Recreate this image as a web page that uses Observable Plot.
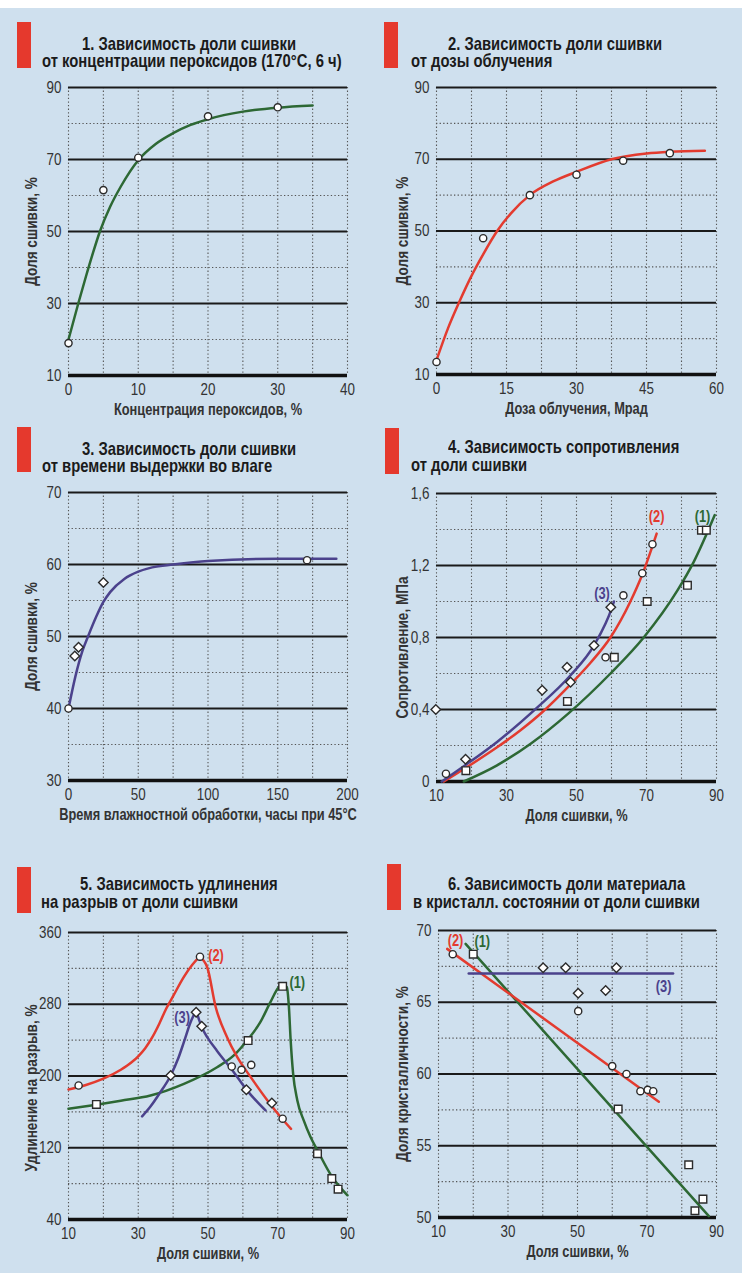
<!DOCTYPE html>
<html>
<head>
<meta charset="utf-8">
<script src="https://cdn.jsdelivr.net/npm/d3@7"></script>
<script src="https://cdn.jsdelivr.net/npm/@observablehq/plot@0.6"></script>
<style>
  html, body { margin: 0; padding: 0; background: #fff; }
  #page { position: relative; width: 742px; height: 1273px; overflow: hidden;
          font-family: "Liberation Sans", Arial, sans-serif; }
  #bg { position: absolute; left: 0; top: 8px; width: 742px; height: 1265px; background: #cfe0ee; }
  .bar { position: absolute; width: 14px; background: #e5392d; }
  .title { position: absolute; font-weight: bold; font-size: 19px; line-height: 15px;
           color: #1b1b1b; white-space: nowrap; transform: scaleX(0.78); transform-origin: 0 0; }
</style>
</head>
<body>
<div id="page"><div id="bg"></div></div>
<script>
// ---- series colours ----
const GREEN = "#2d6834", RED = "#e33b2f", PURPLE = "#4b428c";
const seriesColors = [GREEN, RED, PURPLE];

// ---- 1. crosslink fraction vs peroxide concentration ----
const p1Points = [[0, 19], [5, 61.5], [10, 70.5], [20, 82], [30, 84.5]];
const p1Curve = [[0, 20], [1.4, 30], [2.5, 37.5], [3.5, 44], [4.5, 50], [6, 57], [7.5, 62.5], [10, 69.8],
                 [12.5, 74.3], [15, 77.3], [17.5, 79.6], [20, 81.2], [25, 83.3], [30, 84.4], [35, 85]];
const p1XTicks = [0, 10, 20, 30, 40];
const p1YTicks = [10, 30, 50, 70, 90];

// ---- 2. crosslink fraction vs irradiation dose ----
const p2Points = [[0, 13.5], [10, 48], [20, 60], [30, 65.7], [40, 69.6], [50, 71.7]];
const p2Curve = [[0, 14], [2.5, 23], [4.8, 30], [7.5, 37.5], [10, 43.5], [13, 50], [16, 55], [20, 60],
                 [25, 63.8], [30, 66.5], [37.5, 70], [45, 71.6], [50, 72.1], [57.5, 72.4]];
const p2XTicks = [0, 15, 30, 45, 60];
const p2YTicks = [10, 30, 50, 70, 90];

// ---- 3. crosslink fraction vs moisture exposure time ----
const p3Circles = [[0, 40], [171, 60.6]];
const p3Diamonds = [[4.5, 47.3], [7.2, 48.5], [25, 57.5]];
const p3Curve = [[0, 40], [5, 44.5], [10, 48], [14, 50], [20, 52.8], [25, 54.8], [30, 56.2], [40, 58],
                 [50, 59], [60, 59.6], [75, 60], [100, 60.5], [150, 60.8], [192, 60.8]];
const p3XTicks = [0, 50, 100, 150, 200];
const p3YTicks = [30, 40, 50, 60, 70];

// ---- 4. resistance vs crosslink fraction ----
const p4Squares = [[18.4, 0.06], [47.4, 0.445], [60.8, 0.69], [70.2, 1.0], [81.7, 1.09], [85.7, 1.396], [87.1, 1.396]];
const p4Circles = [[12.7, 0.043], [58.3, 0.69], [63.4, 1.034], [68.8, 1.157], [71.7, 1.318]];
const p4Diamonds = [[9.8, 0.4], [18.3, 0.124], [40.2, 0.507], [47.3, 0.635], [48.3, 0.552], [55, 0.756], [59.8, 0.968]];
const p4Curve1 = [[17.8, 0], [27.3, 0.09], [36.9, 0.21], [47.8, 0.38], [59.7, 0.6], [69.2, 0.8],
                  [78.8, 1.06], [83.5, 1.22], [89.5, 1.48]];
const p4Curve2 = [[12.1, 0], [18.3, 0.075], [27.3, 0.19], [34, 0.285], [40.2, 0.385], [48.3, 0.54],
                  [54, 0.66], [59.7, 0.8], [65.4, 1.0], [68.8, 1.15], [72.9, 1.377]];
const p4Curve3 = [[11.5, 0], [18.3, 0.092], [27.3, 0.22], [37.8, 0.394], [48.3, 0.59], [55, 0.756],
                  [60.2, 0.97], [60.7, 1.0]];
const p4Labels = [["(1)", 86, 1.47], ["(2)", 72.9, 1.47], ["(3)", 57.3, 1.045]];
const p4XTicks = [10, 30, 50, 70, 90];
const p4YTicks = [0, 0.4, 0.8, 1.2, 1.6];

// ---- 5. elongation at break vs crosslink fraction ----
const p5Squares = [[18, 168.3], [71.4, 300], [61.5, 239.5], [81.4, 113.4], [85.5, 85.6], [87.3, 73.8]];
const p5Circles = [[12.9, 189.4], [47.7, 333], [56.8, 210.6], [59.6, 206.9], [62.4, 212.4], [71.4, 152.4]];
const p5Diamonds = [[39.3, 200.6], [46.6, 271], [48.2, 255.4], [61, 184.6], [68.3, 170]];
const p5Curve1Rise = [[10, 163.4], [18, 168], [25, 172.5], [33.5, 178.3], [43.1, 191.3], [52.6, 209.8],
                      [57.4, 222.9], [61.2, 239.6], [65, 260], [67.9, 282.3], [70.3, 299], [71.6, 302]];
const p5Curve1Fall = [[71.6, 302], [72.6, 299], [73.2, 277], [73.7, 240], [74.4, 203], [75.6, 173],
                      [77.5, 150], [79.4, 132], [81.4, 117], [85.5, 88], [90, 67]];
const p5Curve2Rise = [[10, 185], [15, 190], [20, 197], [25, 207], [28, 215], [30, 222], [32, 231],
                      [34, 243], [36, 258], [38, 275], [40, 289], [43, 310], [45.5, 324], [47.6, 333]];
const p5Curve2Fall = [[47.6, 333], [49.8, 321], [52.2, 277], [55.5, 243], [58.4, 221], [62.2, 199],
                      [67, 173], [71.3, 152], [73.8, 141]];
const p5Curve3Rise = [[31.1, 155], [33.5, 166], [36, 180], [39.3, 200.6], [41.5, 220], [43.1, 238],
                      [45, 260], [46.6, 273]];
const p5Curve3Fall = [[46.6, 273], [47.5, 262], [48.5, 252], [50, 242], [52.6, 228], [57.4, 204.3],
                      [61.2, 184], [66.5, 161.6]];
const p5Labels = [["(1)", 75.6, 303.5], ["(2)", 52.3, 334.4], ["(3)", 42.6, 264.9]];
const p5XTicks = [10, 30, 50, 70, 90];
const p5YTicks = [40, 120, 200, 280, 360];

// ---- 6. crystalline fraction vs crosslink fraction ----
const p6Circles = [[14.1, 68.35], [50.2, 64.38], [60, 60.55], [64.1, 60], [68.1, 58.8], [70.2, 58.9], [71.8, 58.8]];
const p6Squares = [[20, 68.35], [61.7, 57.56], [82, 53.67], [83.8, 50.47], [86.1, 51.28]];
const p6Diamonds = [[40.1, 67.4], [46.6, 67.4], [61.2, 67.4], [50.2, 65.63], [58.1, 65.82]];
const p6Line1 = [[17.8, 69.07], [87.8, 50.1]];
const p6Line2 = [[12.5, 68.72], [73.4, 58.07]];
const p6Line3 = [[18.7, 67], [77.5, 67]];
const p6Labels = [["(1)", 22.6, 69.2], ["(2)", 14.9, 69.25], ["(3)", 74.8, 66.05]];
const p6XTicks = [10, 30, 50, 70, 90];
const p6YTicks = [50, 55, 60, 65, 70];

// ---- drawing helpers ----
const FONT = '"Liberation Sans", Arial, sans-serif';
const page = document.getElementById("page");

const px = d => d[0], py = d => d[1];
const curve = (data, color) => Plot.line(data, {x: px, y: py, stroke: color, strokeWidth: 2.5, curve: "monotone-x"});
const straight = (data, color) => Plot.line(data, {x: px, y: py, stroke: color, strokeWidth: 2.5});
const dots = (data, symbol) => Plot.dot(data, {
  x: px, y: py, symbol, r: symbol === "circle" ? 3.6 : 4.3,
  fill: "white", stroke: "#2b2b2b", strokeWidth: 1.4
});
const labels = data => data.map((d, i) => Plot.text([d], {
  x: d => d[1], y: d => d[2], text: d => d[0], fill: seriesColors[i],
  fontSize: 16, fontWeight: "bold"
}));
const halfSteps = ticks => d3.pairs(ticks).map(([a, b]) => (a + b) / 2);
const withHalves = ticks => d3.sort([...ticks, ...halfSteps(ticks)]);

// narrow every SVG text along its baseline (the typeface is a condensed grotesque)
function condense(svg) {
  svg.querySelectorAll("text").forEach(t => {
    const holder = t.closest("[font-weight]");
    const bold = holder && holder.getAttribute("font-weight") === "bold";
    const w = t.getComputedTextLength();
    if (w > 0) {
      t.setAttribute("textLength", (w * (bold ? 0.8 : 0.84)).toFixed(1));
      t.setAttribute("lengthAdjust", "spacingAndGlyphs");
    }
  });
}

function addBlock(b) {
  const bar = document.createElement("div");
  bar.className = "bar";
  Object.assign(bar.style, {left: b.bar[0] + "px", top: b.bar[1] + "px", height: b.bar[2] + "px"});
  page.appendChild(bar);
  b.lines.forEach(([text, x, baseline]) => {
    const t = document.createElement("div");
    t.className = "title";
    t.textContent = text;
    Object.assign(t.style, {left: x + "px", top: (baseline - 14) + "px"});
    page.appendChild(t);
  });
}

function panel(cfg) {
  const mt = 20, mb = 50, width = 371;
  const ml = cfg.plot[0] - cfg.left, mr = cfg.left + width - cfg.plot[1];
  const height = cfg.plot[3] - cfg.plot[2] + mt + mb;
  const yMinor = halfSteps(cfg.yTicks);
  const chart = Plot.plot({
    width, height, marginTop: mt, marginBottom: mb, marginLeft: ml, marginRight: mr,
    x: {domain: [cfg.xTicks[0], cfg.xTicks[cfg.xTicks.length - 1]]},
    y: {domain: [cfg.yTicks[0], cfg.yTicks[cfg.yTicks.length - 1]]},
    style: {background: "transparent", fontFamily: FONT, fontSize: "16px", color: "#333", overflow: "visible"},
    marks: [
      Plot.ruleX(withHalves(cfg.xTicks), {stroke: "#555", strokeWidth: 1.1, strokeDasharray: "1.3,2.3"}),
      Plot.ruleY(yMinor, {stroke: "#555", strokeWidth: 1.1, strokeDasharray: "1.3,2.3"}),
      Plot.ruleY(cfg.yTicks.slice(1), {stroke: "#1a1a1a", strokeWidth: 2}),
      Plot.ruleY(cfg.yTicks.slice(0, 1), {stroke: "#111", strokeWidth: 3.5}),
      Plot.axisX(cfg.xTicks, {tickSize: 0, tickPadding: 8, label: null, fill: "#333", fontSize: 16}),
      Plot.axisY(cfg.yTicks, {tickSize: 0, tickPadding: 7, label: null, fill: "#333", fontSize: 16,
                              tickFormat: cfg.yFormat || (d => String(d))}),
      Plot.text([cfg.yLabel], {text: d => d, frameAnchor: "left", textAnchor: "middle", lineAnchor: "middle",
                               rotate: -90, dx: -(ml - 31), dy: cfg.yLabelShift || 0,
                               fontSize: 17, fontWeight: "bold", fill: "#333"}),
      Plot.text([cfg.xLabel], {text: d => d, frameAnchor: "bottom", textAnchor: "middle", lineAnchor: "middle",
                               dy: 34, fontSize: 16, fontWeight: "bold", fill: "#333"}),
      ...cfg.marks
    ]
  });
  Object.assign(chart.style, {position: "absolute", left: cfg.left + "px", top: (cfg.plot[2] - mt) + "px"});
  page.appendChild(chart);
  condense(chart);
}

// ---- titles ----
addBlock({bar: [17, 22, 46], lines: [["1. Зависимость доли сшивки", 82, 50], ["от концентрации пероксидов (170°C, 6 ч)", 42, 67]]});
addBlock({bar: [384, 22, 46], lines: [["2. Зависимость доли сшивки", 448, 50], ["от дозы облучения", 411, 67]]});
addBlock({bar: [17, 427, 45], lines: [["3. Зависимость доли сшивки", 82, 455], ["от времени выдержки во влаге", 42, 472]]});
addBlock({bar: [385, 428, 46], lines: [["4. Зависимость сопротивления", 448, 453], ["от доли сшивки", 411, 471]]});
addBlock({bar: [17, 867, 46], lines: [["5. Зависимость удлинения", 80, 890], ["на разрыв от доли сшивки", 41, 908]]});
addBlock({bar: [387, 864, 46], lines: [["6. Зависимость доли материала", 448, 890], ["в кристалл. состоянии от доли сшивки", 413, 908]]});

// ---- charts ----
panel({
  left: 0, plot: [68, 347, 87, 375], xTicks: p1XTicks, yTicks: p1YTicks,
  yLabel: "Доля сшивки, %", xLabel: "Концентрация пероксидов, %",
  marks: [curve(p1Curve, GREEN), dots(p1Points, "circle")]
});
panel({
  left: 371, plot: [436, 716, 87, 374], xTicks: p2XTicks, yTicks: p2YTicks,
  yLabel: "Доля сшивки, %", xLabel: "Доза облучения, Мрад",
  marks: [curve(p2Curve, RED), dots(p2Points, "circle")]
});
panel({
  left: 0, plot: [68, 347, 492, 780], xTicks: p3XTicks, yTicks: p3YTicks,
  yLabel: "Доля сшивки, %", xLabel: "Время влажностной обработки, часы при 45°C",
  marks: [curve(p3Curve, PURPLE), dots(p3Circles, "circle"), dots(p3Diamonds, "diamond2")]
});
panel({
  left: 371, plot: [436, 716, 493, 781], xTicks: p4XTicks, yTicks: p4YTicks,
  yFormat: d => String(d).replace(".", ","), yLabelShift: 10,
  yLabel: "Сопротивление, МПа", xLabel: "Доля сшивки, %",
  marks: [
    curve(p4Curve1, GREEN), curve(p4Curve2, RED), curve(p4Curve3, PURPLE),
    dots(p4Squares, "square"), dots(p4Circles, "circle"), dots(p4Diamonds, "diamond2"),
    ...labels(p4Labels)
  ]
});
panel({
  left: 0, plot: [68, 347, 932, 1219], xTicks: p5XTicks, yTicks: p5YTicks, yLabelShift: 12,
  yLabel: "Удлинение на разрыв, %", xLabel: "Доля сшивки, %",
  marks: [
    curve(p5Curve1Rise, GREEN), curve(p5Curve1Fall, GREEN),
    curve(p5Curve2Rise, RED), curve(p5Curve2Fall, RED),
    curve(p5Curve3Rise, PURPLE), curve(p5Curve3Fall, PURPLE),
    dots(p5Squares, "square"), dots(p5Circles, "circle"), dots(p5Diamonds, "diamond2"),
    ...labels(p5Labels)
  ]
});
panel({
  left: 371, plot: [438, 716, 930, 1217], xTicks: p6XTicks, yTicks: p6YTicks,
  yLabel: "Доля кристалличности, %", xLabel: "Доля сшивки, %",
  marks: [
    straight(p6Line1, GREEN), straight(p6Line2, RED), straight(p6Line3, PURPLE),
    dots(p6Squares, "square"), dots(p6Circles, "circle"), dots(p6Diamonds, "diamond2"),
    ...labels(p6Labels)
  ]
});
</script>
</body>
</html>
